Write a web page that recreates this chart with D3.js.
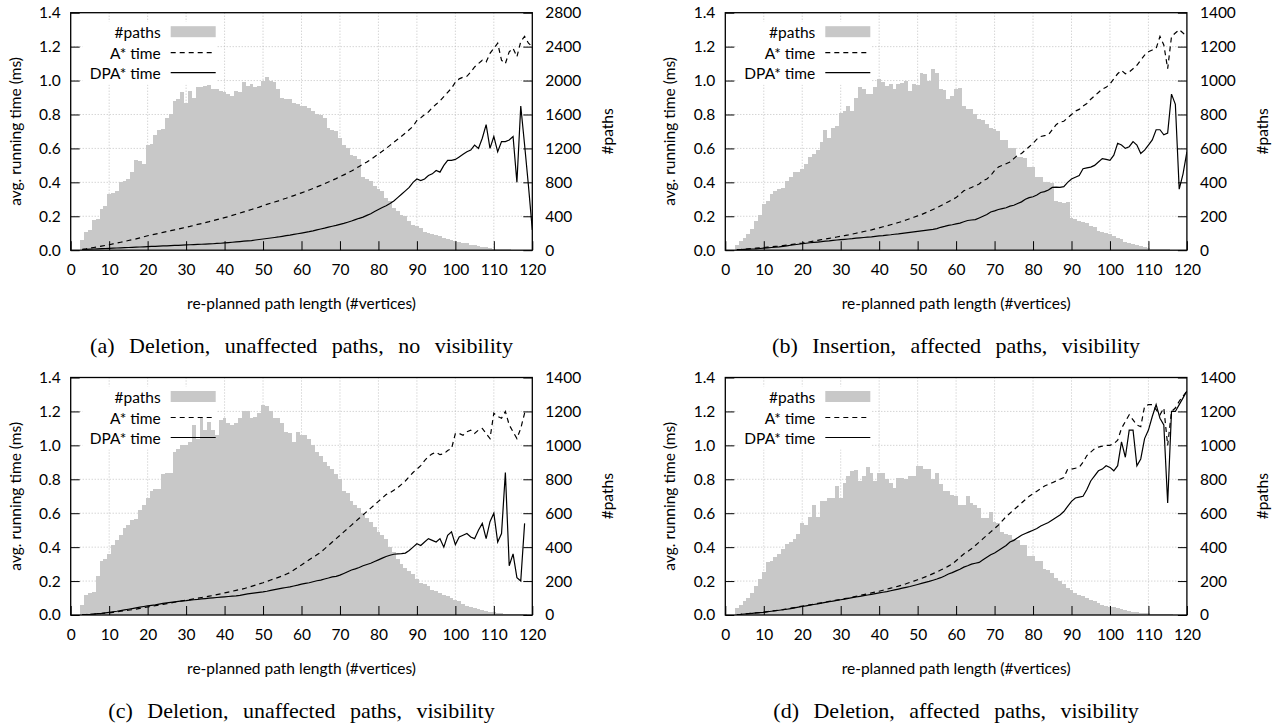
<!DOCTYPE html>
<html><head><meta charset="utf-8">
<script src="https://cdn.jsdelivr.net/npm/d3@7"></script>
<style>body{margin:0;background:#fff}</style>
</head><body>
<svg id="chart" width="1274" height="723"></svg>
<script>
// ---- data ----
const pathLengths = [3,4,5,6,7,8,9,10,11,12,13,14,15,16,17,18,19,20,21,22,23,24,25,26,27,28,29,30,31,32,33,34,35,36,37,38,39,40,41,42,43,44,45,46,47,48,49,50,51,52,53,54,55,56,57,58,59,60,61,62,63,64,65,66,67,68,69,70,71,72,73,74,75,76,77,78,79,80,81,82,83,84,85,86,87,88,89,90,91,92,93,94,95,96,97,98,99,100,101,102,103,104,105,106,107,108,109,110,111,112,113,114,115,116,117,118,119,120];
const xTicks = [0,10,20,30,40,50,60,70,80,90,100,110,120];
const timeTicks = [0,0.2,0.4,0.6,0.8,1.0,1.2,1.4];
const timeTickLabels = ["0.0","0.2","0.4","0.6","0.8","1.0","1.2","1.4"];
const pathTicksA = [0,400,800,1200,1600,2000,2400,2800];
const pathTicksOther = [0,200,400,600,800,1000,1200,1400];
const legendLabels = ["#paths","A* time","DPA* time"];
const xTitle = "re-planned path length (#vertices)";
const yTitleLeft = "avg. running time (ms)";
const yTitleRight = "#paths";
const captions = ["(a) Deletion, unaffected paths, no visibility","(b) Insertion, affected paths, visibility","(c) Deletion, unaffected paths, visibility","(d) Deletion, affected paths, visibility"];

const pathsA = [120,220,240,360,365,480,520,660,680,700, 800,820,840,920,1060,1055,1020,1240,1255,1360, 1420,1425,1560,1600,1760,1780,1860,1740,1880,1800, 1920,1925,1940,1945,1900,1905,1880,1860,1840,1820, 1880,1860,1980,1940,1960,1920,1940,2000,2040,2000, 1980,1900,1800,1780,1785,1740,1720,1700,1700,1680, 1640,1600,1595,1560,1440,1420,1400,1320,1240,1200, 1120,1115,1080,860,840,820,760,720,700,620, 580,500,460,420,400,340,300,280,260,220, 200,195,180,170,140,130,120,110,100,90, 80,66,56,50,40,32,24,20,16,14, 12,10,8,6,6,4,4,4];
const astarA = [.005,.008,.012,.016,.020,.024,.028,.032,.037,.042, .047,.052,.057,.062,.067,.073,.079,.085,.090,.095, .100,.105,.110,.115,.120,.125,.130,.135,.140,.146, .152,.157,.163,.168,.174,.180,.186,.192,.198,.205, .212,.219,.226,.233,.240,.247,.254,.262,.270,.277, .284,.291,.299,.306,.314,.322,.330,.338,.346,.355, .364,.373,.382,.392,.402,.412,.422,.433,.444,.455, .467,.480,.494,.507,.520,.535,.551,.567,.583,.600, .618,.636,.654,.672,.690,.710,.730,.765,.780,.800, .815,.840,.860,.880,.905,.930,.955,.990,1.010,1.020, 1.025,1.050,1.080,1.100,1.120,1.110,1.160,1.190,1.220,1.120, 1.100,1.170,1.190,1.140,1.230,1.260,1.220,1.200];
const dpaA = [.004,.005,.006,.007,.008,.009,.010,.011,.012,.013, .014,.015,.016,.017,.018,.019,.020,.021,.022,.023, .024,.025,.026,.027,.028,.029,.030,.031,.032,.033, .034,.035,.036,.037,.038,.040,.041,.043,.045,.047, .049,.051,.053,.055,.057,.060,.063,.066,.069,.072, .075,.078,.082,.086,.089,.093,.097,.101,.105,.109, .114,.120,.125,.130,.136,.141,.146,.152,.158,.165, .172,.180,.188,.195,.205,.215,.228,.240,.252,.262, .275,.290,.310,.330,.350,.370,.400,.420,.410,.420, .440,.450,.470,.460,.500,.530,.530,.535,.550,.565, .580,.590,.620,.600,.660,.740,.600,.670,.580,.640, .640,.650,.670,.400,.850,.620,.380,.120];

const pathsB = [30,55,70,95,125,170,210,270,290,330, 350,360,365,410,430,460,462,480,510,550, 570,590,640,710,660,720,730,810,820,850, 820,900,960,950,920,922,960,1010,990,970, 980,950,980,985,1000,940,980,975,1045,1040, 1000,1070,1045,950,945,890,910,950,955,850, 830,830,800,775,770,745,720,715,700,650, 650,600,600,550,550,545,490,490,430,430, 400,400,395,290,285,280,285,190,185,170, 165,160,140,135,115,110,100,95,85,70, 65,50,45,35,30,25,18,15,10,8, 7,6,5,4,4,3,3,3];
const astarB = [.003,.004,.006,.008,.010,.012,.014,.016,.018,.020, .022,.024,.027,.030,.033,.036,.039,.042,.046,.050, .054,.058,.062,.066,.070,.074,.078,.082,.086,.090, .095,.100,.105,.110,.115,.120,.126,.132,.138,.144, .150,.156,.163,.170,.178,.186,.194,.202,.210,.220, .230,.240,.250,.262,.274,.286,.298,.310,.330,.350, .360,.370,.380,.390,.410,.420,.440,.470,.490,.500, .510,.520,.540,.560,.570,.590,.610,.630,.655,.670, .675,.680,.710,.740,.755,.760,.780,.800,.820,.830, .850,.865,.890,.910,.930,.950,.960,.980,1.010,1.040, 1.060,1.040,1.050,1.070,1.090,1.120,1.150,1.170,1.180,1.190, 1.260,1.210,1.070,1.260,1.280,1.300,1.280,1.260];
const dpaB = [.003,.004,.005,.006,.007,.008,.010,.012,.014,.016, .018,.020,.023,.026,.029,.032,.035,.038,.041,.044, .046,.048,.050,.053,.055,.058,.060,.062,.064,.066, .068,.071,.073,.075,.077,.079,.082,.084,.086,.089, .091,.094,.096,.099,.102,.105,.108,.111,.114,.117, .120,.123,.127,.135,.140,.146,.150,.155,.160,.168, .175,.178,.180,.190,.200,.210,.225,.232,.240,.245, .250,.260,.265,.275,.285,.300,.310,.315,.325,.340, .345,.355,.370,.372,.370,.375,.400,.420,.430,.440, .480,.485,.490,.500,.520,.540,.535,.530,.560,.630, .620,.600,.610,.640,.620,.570,.590,.620,.650,.710, .710,.680,.690,.920,.860,.360,.450,.580];

const pathsC = [60,120,130,135,230,320,330,360,410,440, 470,510,530,560,565,620,650,690,730,740, 745,830,835,835,960,980,1000,1000,1020,1120, 1040,1170,1090,1140,1090,1060,1150,1160,1130,1120, 1130,1160,1200,1200,1160,1170,1190,1240,1230,1200, 1160,1160,1130,1080,1070,1020,1080,1060,1060,1040, 1000,960,940,900,880,860,830,800,730,720, 670,650,630,600,570,550,520,490,470,450, 400,370,330,300,280,260,240,210,190,180, 170,150,140,130,120,110,100,90,80,65, 55,45,40,35,30,25,20,16,13,10, 8,6,5,4,3,3,2,2];
const astarC = [.002,.003,.004,.005,.007,.009,.011,.013,.016,.019, .022,.025,.028,.031,.035,.039,.043,.047,.051,.055, .059,.063,.067,.071,.075,.079,.083,.087,.091,.095, .099,.103,.107,.111,.115,.120,.125,.130,.135,.140, .145,.150,.155,.162,.169,.176,.183,.190,.198,.206, .214,.222,.230,.240,.250,.265,.280,.295,.310,.325, .340,.355,.370,.390,.410,.430,.450,.470,.490,.510, .530,.550,.570,.590,.610,.630,.650,.670,.690,.710, .720,.735,.750,.770,.790,.815,.840,.860,.880,.910, .935,.950,.960,.945,.950,.970,.980,1.070,1.070,1.060, 1.080,1.090,1.070,1.090,1.100,1.070,1.040,1.190,1.170,1.160, 1.200,1.120,1.080,1.040,1.100,1.190,1.200,null];
const dpaC = [.002,.003,.004,.006,.008,.010,.013,.016,.019,.022, .026,.030,.034,.038,.042,.046,.050,.054,.057,.060, .064,.068,.071,.074,.077,.080,.083,.085,.088,.090, .092,.095,.097,.099,.101,.103,.105,.107,.109,.111, .113,.116,.120,.124,.127,.130,.133,.136,.140,.145, .150,.154,.158,.162,.166,.171,.176,.182,.186,.190, .196,.202,.206,.212,.218,.225,.228,.235,.245,.255, .265,.272,.280,.290,.298,.305,.315,.325,.335,.345, .352,.358,.360,.362,.365,.380,.400,.420,.410,.430, .450,.440,.430,.450,.400,.470,.490,.415,.460,.470, .480,.460,.450,.500,.540,.450,.550,.600,.430,.480, .840,.290,.360,.220,.200,.540,null,null];

const pathsD = [40,60,80,100,130,170,210,255,310,320, 340,360,390,420,430,450,480,540,530,580, 650,580,670,670,690,690,760,690,780,820, 850,855,790,820,870,840,790,840,840,800, 780,750,810,810,800,820,820,880,880,860, 860,800,840,770,730,730,710,700,650,650, 700,660,650,630,570,570,610,550,540,490, 480,470,450,440,410,410,350,350,320,320, 270,265,250,220,200,180,160,150,130,120, 110,100,90,80,70,60,55,50,45,40, 35,30,25,20,17,14,12,10,8,6, 5,4,3,3,2,2,2,1];
const astarD = [.003,.004,.006,.008,.010,.012,.014,.017,.020,.023, .026,.029,.032,.036,.040,.044,.048,.052,.056,.060, .064,.068,.072,.076,.080,.084,.088,.092,.096,.100, .105,.110,.115,.120,.125,.130,.135,.140,.146,.152, .158,.164,.170,.177,.184,.192,.200,.208,.216,.225, .234,.244,.254,.265,.276,.288,.300,.320,.340,.360, .375,.390,.410,.430,.450,.470,.490,.510,.530,.555, .580,.600,.620,.640,.660,.680,.700,.715,.730,.745, .760,.770,.780,.790,.800,.810,.860,.860,.865,.870, .900,.940,.960,.980,.990,.995,1.000,1.000,1.010,1.030, 1.100,1.140,1.180,1.150,1.120,1.110,1.230,1.240,1.240,1.210, 1.180,1.220,1.000,1.200,1.220,1.260,1.290,1.320];
const dpaD = [.003,.004,.006,.008,.010,.012,.014,.016,.019,.022, .025,.028,.031,.034,.038,.042,.046,.050,.054,.058, .062,.066,.070,.074,.078,.082,.086,.090,.094,.098, .102,.106,.110,.114,.118,.122,.126,.130,.134,.138, .143,.148,.153,.158,.163,.168,.174,.180,.186,.192, .198,.205,.212,.220,.230,.242,.250,.260,.270,.282, .290,.300,.305,.310,.325,.340,.355,.365,.380,.395, .410,.430,.440,.455,.470,.480,.490,.500,.510,.525, .535,.545,.560,.575,.590,.610,.640,.670,.690,.695, .700,.740,.790,.820,.850,.860,.880,.870,.850,.880, 1.020,.930,1.090,1.090,.880,.920,1.040,1.090,1.170,1.240, 1.160,1.120,.660,1.200,1.200,1.240,1.280,1.320];

// ---- layout ----
const FONT = "Lato, 'DejaVu Sans', sans-serif";
const FS = "15.5px";
const BAR = "#c8c8c8";
const W = 461.6, H = 237.5;
const colX = [70.7, 725.3];
const rowY = [12.7, 377.5];

const panels = [
  {paths: pathsA, astar: astarA, dpa: dpaA, rTicks: pathTicksA, cap: captions[0], x0: colX[0], y0: rowY[0]},
  {paths: pathsB, astar: astarB, dpa: dpaB, rTicks: pathTicksOther, cap: captions[1], x0: colX[1], y0: rowY[0]},
  {paths: pathsC, astar: astarC, dpa: dpaC, rTicks: pathTicksOther, cap: captions[2], x0: colX[0], y0: rowY[1]},
  {paths: pathsD, astar: astarD, dpa: dpaD, rTicks: pathTicksOther, cap: captions[3], x0: colX[1], y0: rowY[1]}
];

const svg = d3.select("#chart");

panels.forEach((p, pi) => {
  const g = svg.append("g").attr("transform", `translate(${p.x0},${p.y0})`);
  const x = d3.scaleLinear().domain([0,120]).range([0,W]);
  const yL = d3.scaleLinear().domain([0,1.4]).range([H,0]);
  const rMax = p.rTicks[p.rTicks.length-1];
  const yR = d3.scaleLinear().domain([0,rMax]).range([H,0]);

  // grid
  const grid = g.append("g").attr("stroke","#b4b4b4").attr("stroke-width",0.8).attr("stroke-dasharray","1,2");
  grid.selectAll("line.v").data(xTicks.slice(1,-1)).enter().append("line")
    .attr("x1",d=>x(d)).attr("x2",d=>x(d)).attr("y1",0).attr("y2",H);
  grid.selectAll("line.h").data(timeTicks.slice(1,-1)).enter().append("line")
    .attr("y1",d=>yL(d)).attr("y2",d=>yL(d)).attr("x1",0).attr("x2",W);

  // opaque key background (covers grid)
  g.append("rect").attr("x",12).attr("y",9).attr("width",134).attr("height",63).attr("fill","#fff");

  // bars
  g.append("g").selectAll("rect").data(pathLengths).enter().append("rect")
    .attr("x",(d)=>x(d-0.5)).attr("width",(d)=>x(d+0.5)-x(d-0.5))
    .attr("y",(d,i)=>yR(p.paths[i])).attr("height",(d,i)=>H-yR(p.paths[i]))
    .attr("fill",BAR).attr("shape-rendering","crispEdges");

  // lines
  const clipId = "clip"+pi;
  g.append("clipPath").attr("id",clipId).append("rect").attr("width",W).attr("height",H);
  const mk = arr => d3.line().defined((d,i)=>arr[i]!=null).x(d=>x(d)).y((d,i)=>yL(arr[i]));
  g.append("path").attr("clip-path",`url(#${clipId})`).attr("d",mk(p.astar)(pathLengths))
    .attr("fill","none").attr("stroke","#000").attr("stroke-width",1.2).attr("stroke-dasharray","5,4");
  g.append("path").attr("clip-path",`url(#${clipId})`).attr("d",mk(p.dpa)(pathLengths))
    .attr("fill","none").attr("stroke","#000").attr("stroke-width",1.2);

  // axes
  const styleAxis = sel => {
    sel.select(".domain").remove();
    sel.selectAll("line").attr("stroke","#000").attr("stroke-width",1);
    sel.selectAll("text").attr("font-family",FONT).attr("font-size",FS).attr("fill","#000");
  };
  g.append("g").attr("transform",`translate(0,${H})`)
    .call(d3.axisBottom(x).tickValues(xTicks).tickFormat(d3.format("d")).tickSize(-9).tickSizeOuter(0).tickPadding(14))
    .call(styleAxis);
  g.append("g")
    .call(d3.axisLeft(yL).tickValues(timeTicks).tickFormat((d,i)=>timeTickLabels[i]).tickSize(-9).tickSizeOuter(0).tickPadding(10))
    .call(styleAxis);
  g.append("g").attr("transform",`translate(${W},0)`)
    .call(d3.axisRight(yR).tickValues(p.rTicks).tickFormat(d3.format("d")).tickSize(-9).tickSizeOuter(0).tickPadding(13))
    .call(styleAxis);

  // frame
  g.append("rect").attr("width",W).attr("height",H).attr("fill","none").attr("stroke","#000").attr("stroke-width",1.3);

  // legend
  const lg = g.append("g").attr("font-family",FONT).attr("font-size",FS);
  const rows = [19.5, 40, 60];
  lg.selectAll("text").data(legendLabels).enter().append("text")
    .attr("x",90).attr("y",(d,i)=>rows[i]).attr("text-anchor","end").attr("dominant-baseline","central").text(d=>d);
  lg.append("rect").attr("x",100).attr("y",rows[0]-6).attr("width",45).attr("height",11).attr("fill",BAR);
  lg.append("line").attr("x1",100).attr("x2",145).attr("y1",rows[1]).attr("y2",rows[1])
    .attr("stroke","#000").attr("stroke-width",1.2).attr("stroke-dasharray","5,4");
  lg.append("line").attr("x1",100).attr("x2",145).attr("y1",rows[2]).attr("y2",rows[2])
    .attr("stroke","#000").attr("stroke-width",1.2);

  // axis titles
  g.append("text").attr("x",W/2).attr("y",H+53).attr("text-anchor","middle").attr("dominant-baseline","central")
    .attr("font-family",FONT).attr("font-size",FS).text(xTitle);
  g.append("text").attr("transform",`translate(-56,${H/2}) rotate(-90)`).attr("text-anchor","middle").attr("dominant-baseline","central")
    .attr("font-family",FONT).attr("font-size",FS).text(yTitleLeft);
  g.append("text").attr("transform",`translate(${W+75},${H/2}) rotate(-90)`).attr("text-anchor","middle").attr("dominant-baseline","central")
    .attr("font-family",FONT).attr("font-size",FS).text(yTitleRight);

  // caption
  g.append("text").attr("x",W/2).attr("y",H+95).attr("text-anchor","middle").attr("dominant-baseline","central")
    .attr("font-family","'Liberation Serif', 'Times New Roman', serif").attr("font-size","22px")
    .attr("word-spacing","9px").text(p.cap);
});
</script>
</body></html>
